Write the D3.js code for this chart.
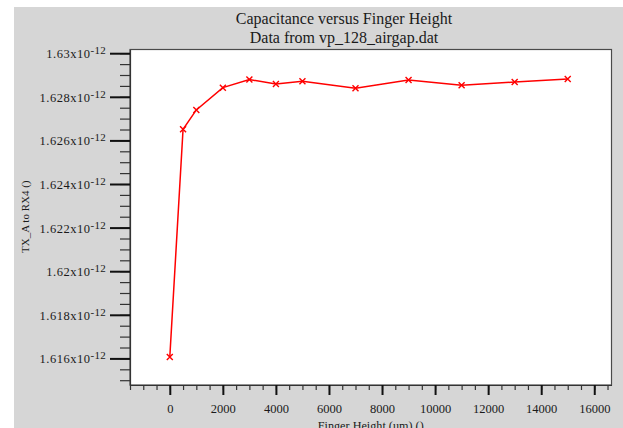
<!DOCTYPE html>
<html>
<head>
<meta charset="utf-8">
<script src="https://cdn.jsdelivr.net/npm/d3@7"></script>
<style>
html,body{margin:0;padding:0;background:#fff;}
svg{display:block;font-family:"Liberation Serif",serif;}
</style>
</head>
<body>
<svg id="chart" width="623" height="428"></svg>
<script>
// Data (capacitance in units of 1e-12 F)
const fingerHeight = [0, 500, 1000, 2000, 3000, 4000, 5000, 7000, 9000, 11000, 13000, 15000];
const capacitance = [1.61606, 1.62651, 1.62740, 1.62842, 1.62879, 1.62859, 1.62871, 1.62839, 1.62877, 1.62853, 1.62868, 1.62882];
const xMajorTicks = [0, 2000, 4000, 6000, 8000, 10000, 12000, 14000, 16000];
const yMajorTicks = [1.616, 1.618, 1.62, 1.622, 1.624, 1.626, 1.628, 1.63];
const titleLines = ["Capacitance versus Finger Height", "Data from vp_128_airgap.dat"];
const xLabel = "Finger Height (um) ()";
const yLabel = "TX_A to RX4 ()";
const exponentLabel = "-12";

const svg = d3.select("#chart");
const plot = {left: 130, top: 49.5, right: 611.5, bottom: 385};
const FONT = "Liberation Serif";

svg.append("rect").attr("x", 14).attr("y", 7).attr("width", 609).attr("height", 421).attr("fill", "#d6d6d6");
svg.append("rect").attr("x", plot.left).attr("y", plot.top)
  .attr("width", plot.right - plot.left).attr("height", plot.bottom - plot.top)
  .attr("fill", "#fff").attr("stroke", "#4a4a4a").attr("stroke-width", 1.2);

const x = d3.scaleLinear().domain([-1500, 16650]).range([plot.left, plot.right]);
const y = d3.scaleLinear().domain([1.61478, 1.63017]).range([plot.bottom, plot.top]);

const xMinor = d3.range(-1500, 16501, 500);
const yMinor = d3.range(0, 31).map(i => 1.615 + i * 0.0005);

// Y axis
svg.append("g").attr("transform", `translate(${plot.left},0)`)
  .call(d3.axisLeft(y).tickValues(yMinor).tickFormat("").tickSize(10).tickSizeOuter(0))
  .call(g => g.select(".domain").remove())
  .call(g => g.selectAll("line").attr("stroke", "#333").attr("stroke-width", 1.2));
const yAx = svg.append("g").attr("transform", `translate(${plot.left},0)`)
  .call(d3.axisLeft(y).tickValues(yMajorTicks).tickFormat(d => +d.toFixed(3) + "x10").tickSize(20).tickSizeOuter(0));
yAx.select(".domain").attr("stroke", "#333").attr("stroke-width", 1.2);
yAx.selectAll("line").attr("stroke", "#111").attr("stroke-width", 2);
yAx.selectAll("text").attr("font-family", FONT).attr("font-size", 12.5).attr("fill", "#1a1a1a")
  .attr("letter-spacing", 0.5).attr("x", -24).attr("dy", 4.4)
  .append("tspan").attr("font-size", 11).attr("letter-spacing", 0.3).attr("dy", -4).text(exponentLabel);

// X axis
svg.append("g").attr("transform", `translate(0,${plot.bottom})`)
  .call(d3.axisBottom(x).tickValues(xMinor).tickFormat("").tickSize(5).tickSizeOuter(0))
  .call(g => g.select(".domain").remove())
  .call(g => g.selectAll("line").attr("stroke", "#333").attr("stroke-width", 1.2));
const xAx = svg.append("g").attr("transform", `translate(0,${plot.bottom})`)
  .call(d3.axisBottom(x).tickValues(xMajorTicks).tickFormat(d3.format("d")).tickSize(10).tickSizeOuter(0));
xAx.select(".domain").attr("stroke", "#333").attr("stroke-width", 1.2);
xAx.selectAll("line").attr("stroke", "#111").attr("stroke-width", 2);
xAx.selectAll("text").attr("font-family", FONT).attr("font-size", 12.5).attr("fill", "#1a1a1a")
  .attr("y", 28.3).attr("dy", 0);

// Titles and labels
svg.append("g").selectAll("text").data(titleLines).join("text")
  .attr("x", 344).attr("y", (d, i) => 24.3 + i * 19)
  .attr("text-anchor", "middle").attr("font-size", 16).attr("fill", "#1a1a1a").text(d => d);
svg.append("text").attr("x", (plot.left + plot.right) / 2).attr("y", 429.5)
  .attr("text-anchor", "middle").attr("font-size", 12.2).attr("fill", "#1a1a1a").text(xLabel);
svg.append("text").attr("transform", "translate(28.5,216.7) rotate(-90)")
  .attr("text-anchor", "middle").attr("font-size", 11).attr("fill", "#1a1a1a")
  .text(yLabel);

// Line and markers
const line = d3.line().x((d, i) => x(fingerHeight[i])).y(d => y(d));
svg.append("path").datum(capacitance).attr("d", line)
  .attr("fill", "none").attr("stroke", "#ff0000").attr("stroke-width", 1.5);
const s = 3;
svg.append("g").selectAll("path").data(capacitance).join("path")
  .attr("d", (d, i) => {
    const cx = x(fingerHeight[i]), cy = y(d);
    return `M${cx - s},${cy - s}L${cx + s},${cy + s}M${cx - s},${cy + s}L${cx + s},${cy - s}`;
  })
  .attr("stroke", "#ff0000").attr("stroke-width", 1.4).attr("fill", "none");
</script>
</body>
</html>
